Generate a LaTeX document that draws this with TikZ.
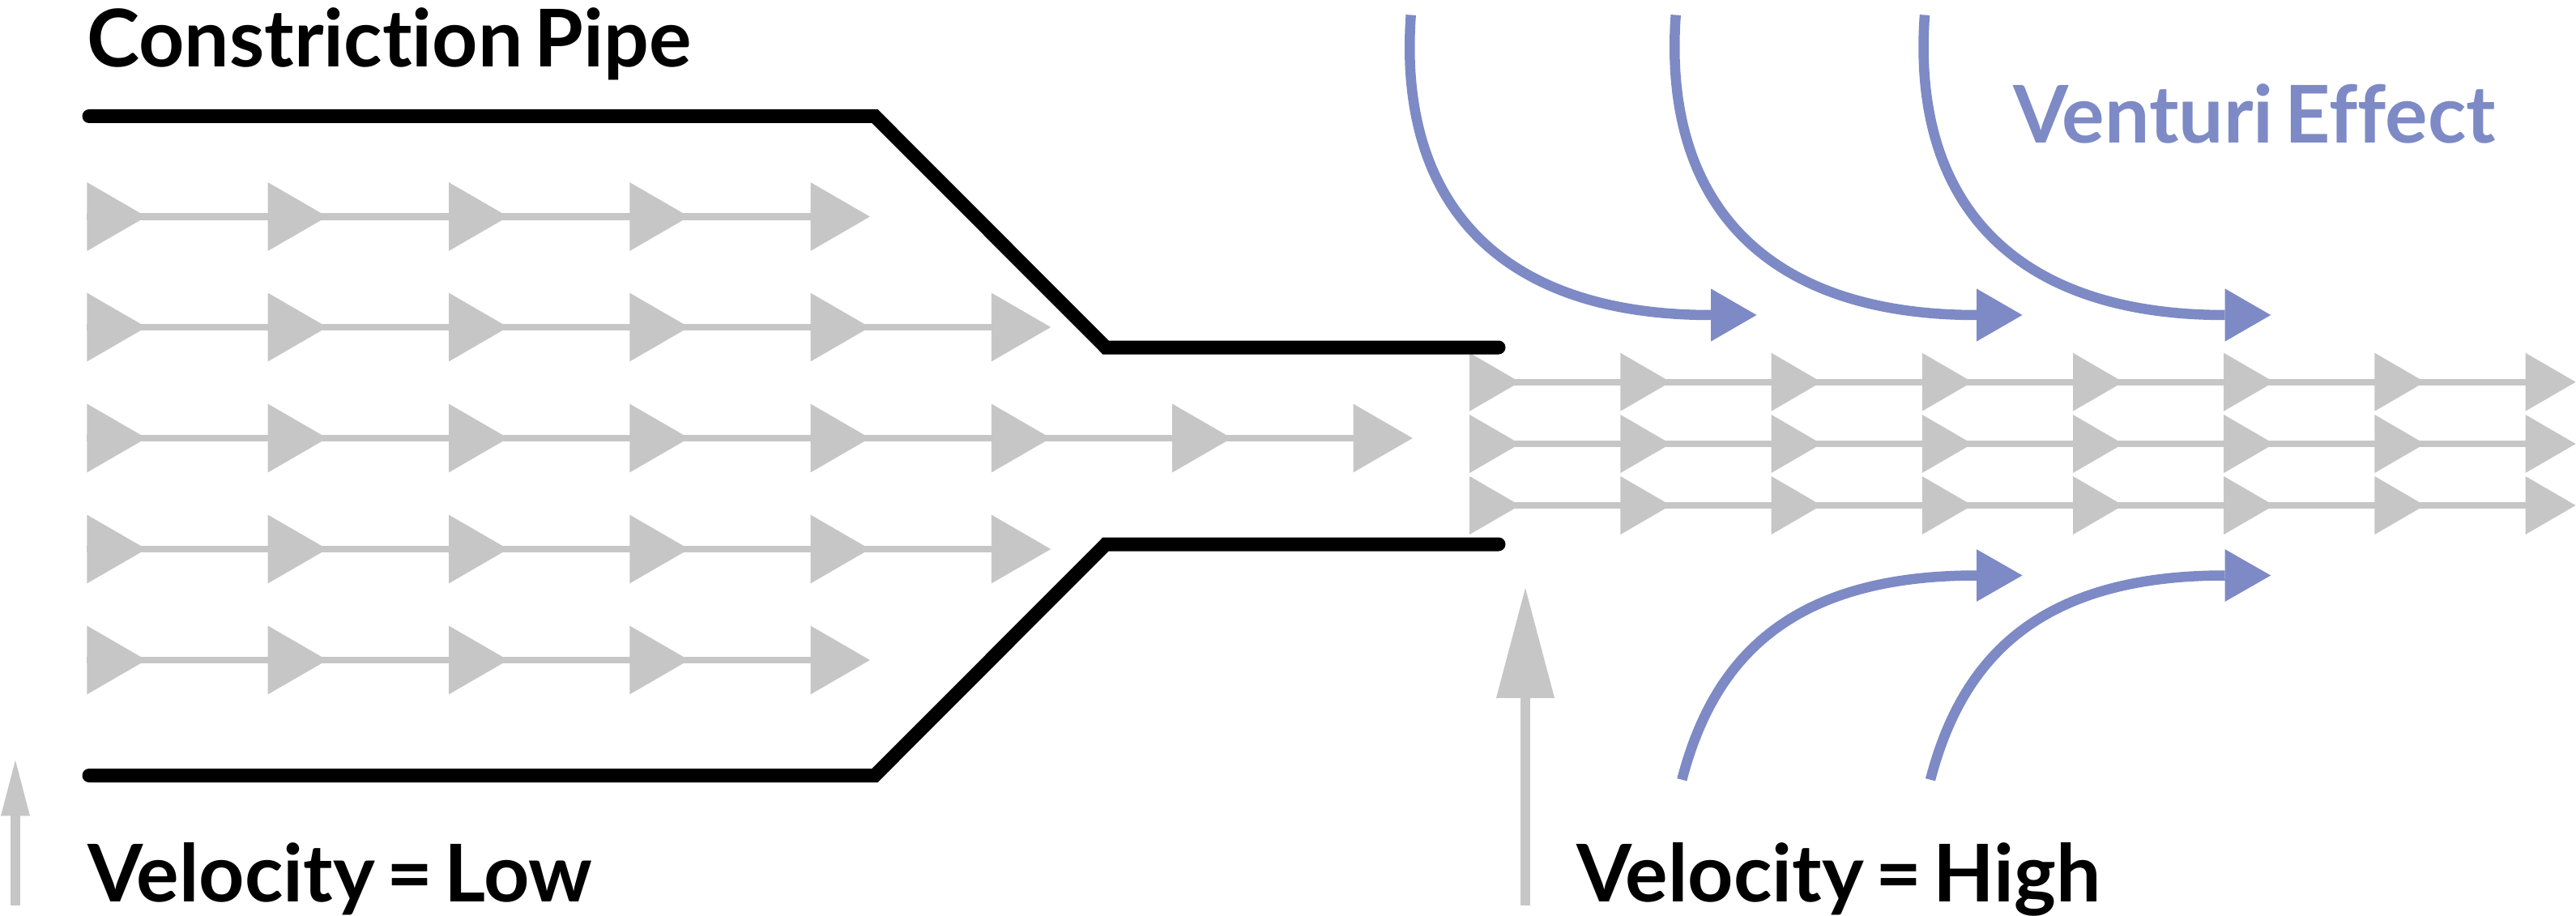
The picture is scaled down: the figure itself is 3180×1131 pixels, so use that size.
\documentclass[tikz,border=0pt]{standalone}
\usepackage{fontspec}
\usetikzlibrary{calc}
\setmainfont{Lato}[Ligatures=NoCommon,WordSpace=0.6]
\definecolor{flowgray}{RGB}{198,198,198}
\definecolor{ventblue}{RGB}{125,138,197}
\tikzset{
  x=1pt,y=-1pt,
  pipeline/.style={draw=black,line width=17pt,line cap=round,miter limit=10},
  flowline/.style={draw=flowgray,line width=8.3pt},
  ventline/.style={draw=ventblue,line width=12.5pt},
  gauge/.style={draw=flowgray,line width=12pt},
  label/.style={inner sep=0pt,anchor=base west,font=\fontsize{98.3}{98.3}\selectfont\bfseries},
}
% big flow head: base-centre coordinate, colour, length, half height
\newcommand{\headat}[4]{\fill[#2] (#1) ++(0,-#4) -- ++(#3,#4) -- ++(-#3,#4) -- cycle;}
\begin{document}
\begin{tikzpicture}
\useasboundingbox (0,0) rectangle (3180,1131);
% left stream rows: row name / y / number of heads
\foreach \r/\y/\n in {a/267.5/5,b/404/6,c/541/8,d/678/6,e/815/5}{
  \foreach \k in {1,...,\n}{
    \coordinate (\r\k) at ({107.4+223.3*(\k-1)},\y);
  }
  \draw[flowline] (\r1) -- (\r\n);
  \foreach \k in {1,...,\n}{ \headat{\r\k}{flowgray}{73.3}{42.4} }
}
% right stream rows
\foreach \r/\y in {f/471.7,g/548,h/624}{
  \foreach \k in {1,...,8}{
    \coordinate (\r\k) at ({1814.2+186.2*(\k-1)},\y);
  }
  \draw[flowline] (\r1) -- (\r8);
  \foreach \k in {1,...,8}{ \headat{\r\k}{flowgray}{62}{36} }
}
% pipe
\coordinate (pa) at (110,143.5);
\coordinate (pb) at (1080,143.5);
\coordinate (pc) at (1365,429);
\coordinate (pd) at (1850,429);
\coordinate (qa) at (110,957.5);
\coordinate (qb) at (1080,957.5);
\coordinate (qc) at (1365,672);
\coordinate (qd) at (1850,672);
\draw[pipeline] (pa) -- (pb) -- (pc) -- (pd);
\draw[pipeline] (qa) -- (qb) -- (qc) -- (qd);
% venturi arrows from above
\foreach \name/\sx/\ex in {u/1741.7/2112,v/2068.7/2440,w/2376/2746.7}{
  \coordinate (\name s) at (\sx,18.5);
  \coordinate (\name e) at (\ex,389);
  \draw[ventline] (\name s) .. controls ($(\name s)+(-16.7,231.5)$) and ($(\name e)+(-262,0)$) .. (\name e);
  \headat{\name e}{ventblue}{56.5}{32.6}
}
% venturi arrows from below
\foreach \name/\sx/\ex in {y/2076.3/2440,z/2383/2746.7}{
  \coordinate (\name s) at (\sx,962.7);
  \coordinate (\name e) at (\ex,710.5);
  \draw[ventline] (\name s) .. controls ($(\name s)+(39,-150)$) and ($(\name e)+(-230,0)$) .. (\name e);
  \headat{\name e}{ventblue}{56.5}{32.3}
}
% velocity gauges
\coordinate (ga) at (19,1118);
\coordinate (gb) at (19,1007.4);
\draw[gauge] (ga) -- (gb);
\fill[flowgray] (1,1007.4) -- (19,938.6) -- (37,1007.4) -- cycle;
\coordinate (ha) at (1883,1118);
\coordinate (hb) at (1883,861.8);
\draw[gauge] (ha) -- (hb);
\fill[flowgray] (1847,861.8) -- (1883,726) -- (1919,861.8) -- cycle;
% labels
\node[label] (title) at (107,83) {Constriction Pipe};
\node[label,text=ventblue] (venturi) at (2485,177) {Venturi Effect};
\node[label] (low) at (108,1113) {Velocity = Low};
\node[label] (high) at (1946,1113) {Velocity = High};
\end{tikzpicture}
\end{document}
